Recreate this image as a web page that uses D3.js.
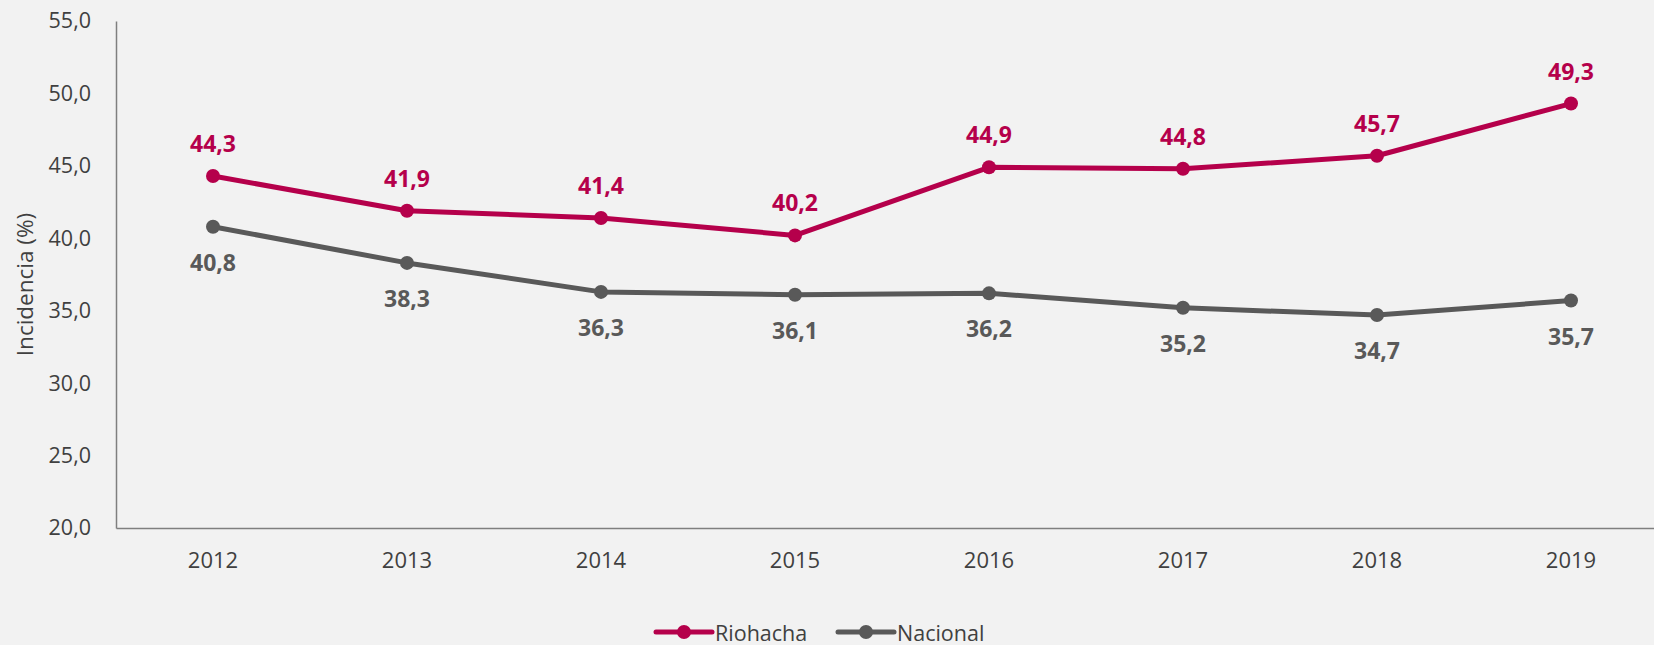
<!DOCTYPE html>
<html>
<head>
<meta charset="utf-8">
<script src="https://cdn.jsdelivr.net/npm/d3@7"></script>
<style>
  html, body { margin: 0; padding: 0; background: #f2f2f2; }
  svg { display: block; }
  text { font-family: "Open Sans", "Noto Sans", sans-serif; }
</style>
</head>
<body>
<svg id="chart" width="1654" height="645"></svg>
<script>
// Incidence of monetary poverty (%), Riohacha vs national
const years = ["2012", "2013", "2014", "2015", "2016", "2017", "2018", "2019"];
const riohacha = [44.3, 41.9, 41.4, 40.2, 44.9, 44.8, 45.7, 49.3];
const nacional = [40.8, 38.3, 36.3, 36.1, 36.2, 35.2, 34.7, 35.7];
const yTicks = [20, 25, 30, 35, 40, 45, 50, 55];

const seriesList = [
  { name: "Riohacha", values: riohacha, color: "#b5004b", labelDy: -33 },
  { name: "Nacional", values: nacional, color: "#595959", labelDy: 35 }
];

const W = 1654, H = 645;
const svg = d3.select("#chart");
svg.append("rect").attr("width", W).attr("height", H).attr("fill", "#f2f2f2");

const x = d3.scaleBand().domain(years).range([116, 116 + 8 * 194]);
const y = d3.scaleLinear().domain([20, 55]).range([528, 21]);
const fmt = v => d3.format(".1f")(v).replace(".", ",");

// Y axis
const yAxis = svg.append("g")
  .attr("transform", "translate(116,0)")
  .call(d3.axisLeft(y).tickValues(yTicks).tickSize(0).tickPadding(25).tickFormat(fmt));
yAxis.select(".domain").attr("stroke", "#7f7f7f").attr("stroke-width", 1.5);
yAxis.selectAll("text").attr("font-size", 21.5).attr("fill", "#404040")
  .attr("font-family", "Open Sans, Noto Sans, sans-serif");

// X axis
const xAxis = svg.append("g")
  .attr("transform", "translate(0,528)")
  .call(d3.axisBottom(x).tickSize(0).tickPadding(24));
xAxis.select(".domain").attr("stroke", "#7f7f7f").attr("stroke-width", 1.5);
xAxis.selectAll("text").attr("font-size", 22).attr("fill", "#404040")
  .attr("font-family", "Open Sans, Noto Sans, sans-serif");

// Y axis title
svg.append("text")
  .attr("transform", `translate(24,${(21 + 528) / 2 + 10}) rotate(-90)`)
  .attr("text-anchor", "middle")
  .attr("dominant-baseline", "central")
  .attr("font-size", 22.5)
  .attr("fill", "#404040")
  .text("Incidencia (%)");

const cx = (d, i) => x(years[i]) + x.bandwidth() / 2;
const line = d3.line().x(cx).y(d => y(d));

seriesList.forEach(s => {
  const g = svg.append("g");
  g.append("path")
    .datum(s.values)
    .attr("d", line)
    .attr("fill", "none")
    .attr("stroke", s.color)
    .attr("stroke-width", 5)
    .attr("stroke-linejoin", "round");
  g.selectAll("circle").data(s.values).join("circle")
    .attr("cx", cx).attr("cy", d => y(d)).attr("r", 7)
    .attr("fill", s.color);
  g.selectAll("text").data(s.values).join("text")
    .attr("x", cx).attr("y", d => y(d) + s.labelDy)
    .attr("text-anchor", "middle")
    .attr("dominant-baseline", "central")
    .attr("font-size", 23)
    .attr("font-weight", "bold")
    .attr("fill", s.color)
    .text(fmt);
});

// Legend
const legend = svg.append("g");
const legendItems = [
  { s: seriesList[0], x0: 656 },
  { s: seriesList[1], x0: 838 }
];
legendItems.forEach(({ s, x0 }) => {
  const ly = 632;
  legend.append("line")
    .attr("x1", x0).attr("x2", x0 + 56).attr("y1", ly).attr("y2", ly)
    .attr("stroke", s.color).attr("stroke-width", 5).attr("stroke-linecap", "round");
  legend.append("circle").attr("cx", x0 + 28).attr("cy", ly).attr("r", 7).attr("fill", s.color);
  legend.append("text")
    .attr("x", x0 + 59).attr("y", ly)
    .attr("dominant-baseline", "central")
    .attr("font-size", 21.5)
    .attr("fill", "#404040")
    .text(s.name);
});
</script>
</body>
</html>
